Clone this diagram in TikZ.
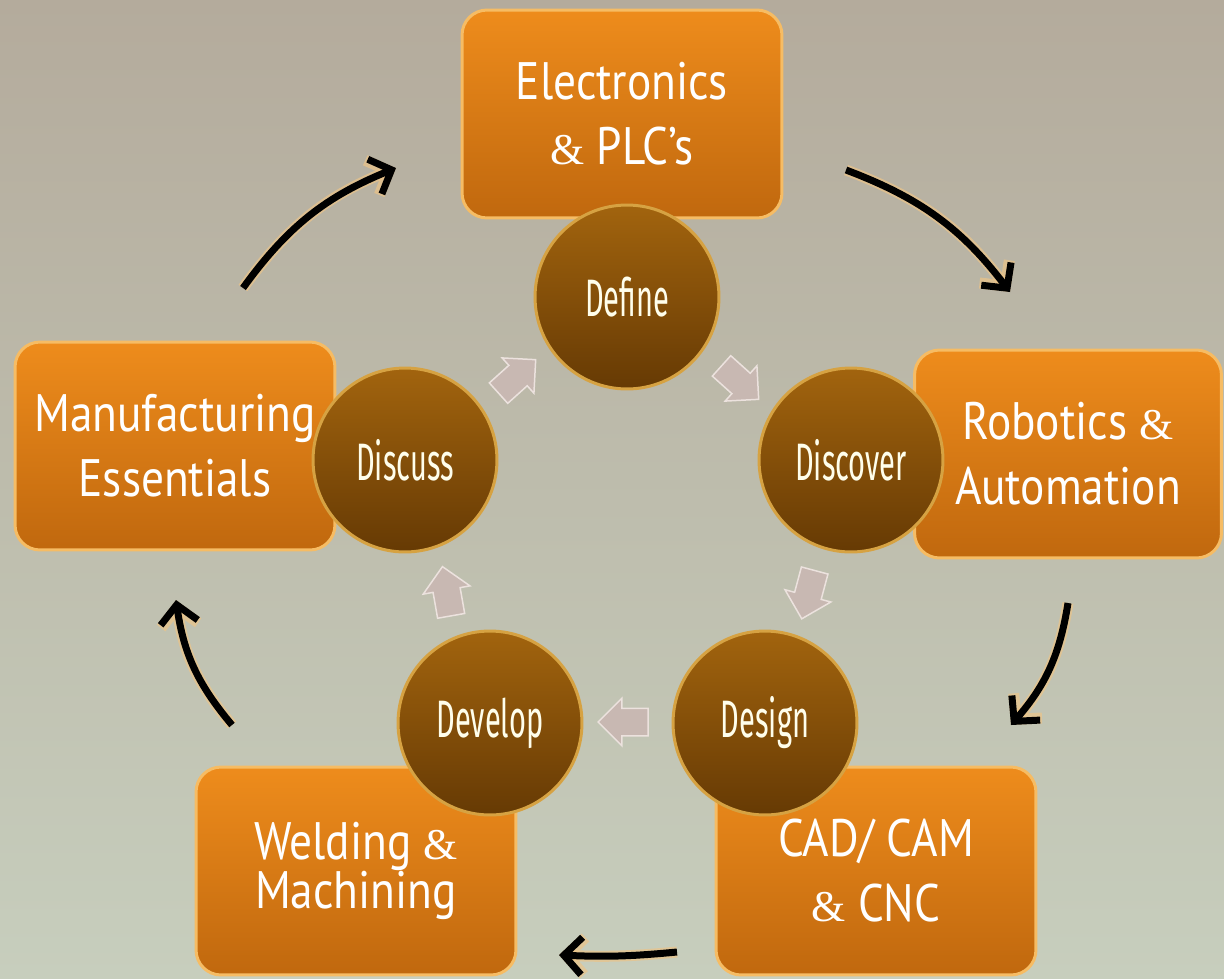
\documentclass[tikz,border=0pt]{standalone}
\usepackage{fontspec}
\usepackage{tikz}
\usetikzlibrary{positioning, shapes, arrows.meta, calc}

\newfontfamily\boxfont[FakeStretch=0.86]{PT Sans}
\newfontfamily\circfont[FakeStretch=0.55]{Fira Sans}
\newfontfamily\ampfont{Liberation Serif}
\newcommand{\amp}{{\ampfont\fontsize{25}{30}\selectfont\&}}

\definecolor{bgtop}{RGB}{180,171,156}
\definecolor{bgmid}{RGB}{197,196,181}
\definecolor{bgbot}{RGB}{199,206,189}
\definecolor{boxtop}{RGB}{238,140,28}
\definecolor{boxbot}{RGB}{192,104,14}
\definecolor{boxrim}{RGB}{246,188,100}
\definecolor{circtop}{RGB}{162,100,14}
\definecolor{circbot}{RGB}{102,58,4}
\definecolor{circrim}{RGB}{214,162,66}
\definecolor{blockfill}{RGB}{200,184,178}
\definecolor{blockrim}{RGB}{236,226,222}
\definecolor{glow}{RGB}{236,196,136}

\tikzset{
  area/.style={rectangle, rounded corners=5mm, minimum width=64mm, minimum height=41.6mm,
    top color=boxtop, bottom color=boxbot, draw=boxrim, line width=0.6mm,
    text=white, align=center, font=\boxfont\fontsize{30}{37}\selectfont},
  stage/.style={circle, minimum size=36.8mm, inner sep=0pt,
    top color=circtop, bottom color=circbot, draw=circrim, line width=0.6mm,
    text=white!92!yellow, font=\circfont\fontsize{30}{34}\selectfont},
  flow/.style={single arrow, minimum height=10mm, single arrow head extend=2mm,
    inner sep=0pt, fill=blockfill, draw=blockrim, line width=0.3mm},
  cycle/.style={line width=1.4mm, black,
    -{Straight Barb[length=3.6mm, width=7.5mm]},
    preaction={draw=glow, line width=2.2mm, opacity=0.7}}
}

\begin{document}
\begin{tikzpicture}[x=0.02cm, y=-0.02cm]
  % Background
  \useasboundingbox (0,0) rectangle (1224,978);
  \shade[top color=bgtop, middle color=bgmid, bottom color=bgbot] (0,0) rectangle (1224,978);

  % Areas
  \node[area] (elec) at (622,114) {Electronics\\\amp{} PLC’s};
  \node[area, minimum width=61.4mm] (robo) at (1068,454) {Robotics \amp\\Automation};
  \node[area] (mfg) at (175,446) {Manufacturing\\Essentials};
  \node[area] (weld) at (356,871) {Welding \amp\\[-9pt]Machining};
  \node[area] (cam) at (876,871) {CAD/ CAM\\\amp{} CNC};

  % Stages
  \foreach \name/\x/\y/\txt in {define/627/297/Define, discover/851/460/Discover,
      design/765/723/Design, develop/490/723/Develop, discuss/405/460/Discuss}
    \node[stage] (\name) at (\x,\y) {\txt};

  % Block arrows
  \foreach \name/\x/\y/\ang in {a/512/381/42, b/735/378/-42, c/810/588/-105,
      d/630/722/180, e/448/598/100}
    \node[flow, rotate=\ang] (step\name) at (\x,\y) {\rule{0pt}{5.2mm}};

  % Cycle arrows
  \coordinate (c1s) at (243,288);  \coordinate (c1e) at (396,168);
  \coordinate (c2s) at (846,170);  \coordinate (c2e) at (1010,292);
  \coordinate (c3s) at (1068,603); \coordinate (c3e) at (1011,725);
  \coordinate (c4s) at (677,952);  \coordinate (c4e) at (559,955);
  \coordinate (c5s) at (232,725);  \coordinate (c5e) at (176,600);
  \foreach \i in {1,2,3,5}
    \draw[cycle] (c\i s) to[bend left=16] (c\i e);
  \draw[cycle] (c4s) to[bend left=4] (c4e);
\end{tikzpicture}
\end{document}
